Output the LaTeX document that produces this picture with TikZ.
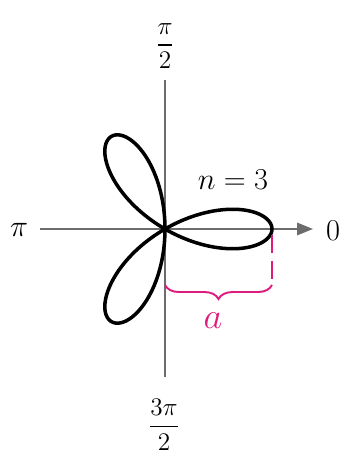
\documentclass[tikz,border=0pt]{standalone}
\usepackage{amsmath}
\usetikzlibrary{decorations.pathreplacing,arrows.meta}
\definecolor{rosepink}{RGB}{222,28,128}
\begin{document}
\begin{tikzpicture}[
  x=0.02cm, y=0.02cm,
  axis/.style={draw=gray!85!black, line width=1.1pt},
  curve/.style={line width=2pt, line join=round},
  lbl/.style={font=\LARGE, inner sep=1pt},
  frc/.style={font=\Large, inner sep=1pt},
  >={Triangle[length=9pt, width=7pt]}
]
  \useasboundingbox (-165,-230) rectangle (178,229);
  \coordinate (O) at (0,0);
  \coordinate (W) at (-125,0);
  \coordinate (E) at (148,0);
  \coordinate (N) at (0,149);
  \coordinate (S) at (0,-148);
  % axes
  \draw[axis, ->, gray!85!black] (W) -- (E);
  \draw[axis] (S) -- (N);
  % rose r = a cos(3 theta)
  \draw[curve] plot[domain=0:180, samples=241, variable=\t, smooth]
    ({107*cos(3*\t)*cos(\t)}, {107*cos(3*\t)*sin(\t)}) -- cycle;
  % labels
  \node[lbl] (zero) at (168,-2) {$0$};
  \node[lbl] (pi) at (-146,-1) {$\pi$};
  \node[frc] (halfpi) at (0,183) {$\dfrac{\pi}{2}$};
  \node[frc] (threehalf) at (-1,-196) {$\dfrac{3\pi}{2}$};
  \node[lbl] (nlab) at (68,49) {$n = 3$};
  % length a
  \coordinate (tip) at (107,-6);
  \coordinate (foot) at (107,-51);
  \draw[rosepink, line width=1.3pt, dash pattern=on 10pt off 5pt] (tip) -- (foot);
  \draw[rosepink, line width=1.1pt, decorate, decoration={brace, mirror, amplitude=8pt}]
    (0,-56) -- (107,-56);
  \node[lbl, text=rosepink, font=\huge] (alab) at (48,-92) {$a$};
\end{tikzpicture}
\end{document}
